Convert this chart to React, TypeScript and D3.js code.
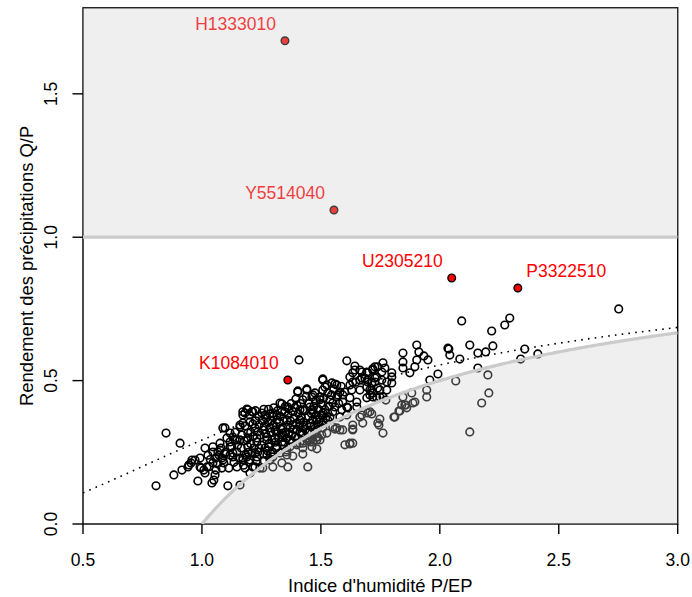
import React from "react";
import * as d3 from "d3";

// ---- data ----
const xTicks = [0.5, 1.0, 1.5, 2.0, 2.5, 3.0];
const yTicks = [0.0, 0.5, 1.0, 1.5];
const xLabel = "Indice d'humidité P/EP";
const yLabel = "Rendement des précipitations Q/P";

// Fu curve parameter (dotted line)
const fuW = 2.7;

// highlighted stations
const highlightCodes = ["H1333010", "Y5514040", "U2305210", "P3322510", "K1084010"];
const highlightPEP = [1.349, 1.555, 2.05, 2.328, 1.361];
const highlightQP = [1.685, 1.095, 0.858, 0.823, 0.502];
const highlightLabelRight = [false, false, false, true, false];

// all other stations: [P/EP, Q/P]
const stations: [number, number][] = [
  [0.807,0.133],[0.849,0.317],[0.882,0.171],[0.908,0.282],[0.916,0.188],[0.941,0.199],[0.945,0.206],[0.954,0.213],[0.958,0.223],[0.971,0.223],[0.983,0.150],[0.992,0.230],[0.992,0.199],[0.996,0.195],
  [1.013,0.265],[1.008,0.188],[1.021,0.199],[1.013,0.178],[1.042,0.143],[1.050,0.153],[1.055,0.171],[1.059,0.188],[1.046,0.269],[1.046,0.251],[1.046,0.213],[1.076,0.282],[1.076,0.258],[1.067,0.251],[1.084,0.230],[1.092,0.213],[1.084,0.195],[1.088,0.223],[1.088,0.335],[1.109,0.133],[1.097,0.335],[1.118,0.317],[1.118,0.269],[1.118,0.286],[1.118,0.241],[1.113,0.195],[1.130,0.248],[1.130,0.234],[1.130,0.303],[1.139,0.293],[1.147,0.293],[1.147,0.251],[1.147,0.199],[1.160,0.136],[1.160,0.293],[1.160,0.338],[1.160,0.345],[1.172,0.223],[1.172,0.230],[1.172,0.380],[1.172,0.391],[1.172,0.352],[1.181,0.195],[1.181,0.387],[1.181,0.342],[1.185,0.241],[1.189,0.234],[1.189,0.293],[1.189,0.401],[1.193,0.317],[1.193,0.269],[1.193,0.300],[1.193,0.398],[1.202,0.178],[1.202,0.223],[1.202,0.356],[1.210,0.248],[1.210,0.391],[1.214,0.391],[1.214,0.349],[1.214,0.199],[1.223,0.335],[1.223,0.248],[1.223,0.199],[1.231,0.234],[1.231,0.286],[1.231,0.300],[1.235,0.251],[1.235,0.321],[1.244,0.195],[1.252,0.387],[1.256,0.328],[1.256,0.195],[1.265,0.265],[1.273,0.241],[1.273,0.293],[1.273,0.303],[1.286,0.335],[1.286,0.384],[1.286,0.223],[1.294,0.293],[1.298,0.251],[1.298,0.234],[1.298,0.199],[1.298,0.387],[1.307,0.300],[1.307,0.328],[1.311,0.265],[1.315,0.321],[1.315,0.380],[1.315,0.269],[1.315,0.363],[1.328,0.248],[1.328,0.422],[1.336,0.213],[1.336,0.303],[1.336,0.286],[1.336,0.391],[1.336,0.419],[1.340,0.276],[1.340,0.317],[1.340,0.310],[1.340,0.335],[1.349,0.391],[1.353,0.251],[1.357,0.258],[1.357,0.300],[1.357,0.363],[1.361,0.408],[1.366,0.401],[1.370,0.269],[1.370,0.293],[1.370,0.335],[1.378,0.310],[1.382,0.237],[1.382,0.345],[1.382,0.391],[1.391,0.303],[1.395,0.436],[1.399,0.282],[1.399,0.276],[1.399,0.328],[1.399,0.415],[1.403,0.464],[1.403,0.460],[1.408,0.572],[1.412,0.363],[1.412,0.321],[1.412,0.352],[1.412,0.398],[1.412,0.282],[1.420,0.310],[1.420,0.317],[1.424,0.282],[1.424,0.338],[1.424,0.433],[1.424,0.398],[1.424,0.265],[1.441,0.345],[1.441,0.471],[1.441,0.467],[1.445,0.317],[1.445,0.300],[1.445,0.293],[1.454,0.286],[1.454,0.352],[1.454,0.321],[1.454,0.408],[1.462,0.443],[1.466,0.363],[1.466,0.391],[1.466,0.398],[1.466,0.450],[1.475,0.457],[1.475,0.321],[1.483,0.293],[1.483,0.363],[1.483,0.328],[1.487,0.345],[1.496,0.443],[1.496,0.433],[1.496,0.370],[1.504,0.310],[1.504,0.380],[1.508,0.502],[1.508,0.506],[1.508,0.467],[1.508,0.415],[1.508,0.387],[1.508,0.356],[1.508,0.335],[1.517,0.478],[1.517,0.398],[1.525,0.317],[1.525,0.485],[1.529,0.387],[1.529,0.457],[1.529,0.363],[1.538,0.433],[1.538,0.373],[1.546,0.492],[1.550,0.422],[1.550,0.391],[1.559,0.408],[1.559,0.488],[1.567,0.485],[1.567,0.443],[1.571,0.450],[1.580,0.460],[1.580,0.373],[1.588,0.398],[1.592,0.425],[1.592,0.450],[1.600,0.460],[1.609,0.569],[1.609,0.408],[1.609,0.380],[1.613,0.405],[1.622,0.485],[1.622,0.440],[1.622,0.513],[1.630,0.467],[1.634,0.527],[1.634,0.495],[1.643,0.551],[1.643,0.537],[1.647,0.495],[1.651,0.425],[1.651,0.408],[1.664,0.537],[1.664,0.502],[1.664,0.467],[1.672,0.509],[1.672,0.530],[1.685,0.509],[1.693,0.530],[1.693,0.478],[1.693,0.440],[1.697,0.527],[1.697,0.495],[1.697,0.502],[1.706,0.450],[1.706,0.467],[1.714,0.492],[1.714,0.467],[1.718,0.541],[1.718,0.537],[1.718,0.443],[1.718,0.457],[1.727,0.548],[1.727,0.495],[1.727,0.509],[1.735,0.513],[1.735,0.440],[1.739,0.548],[1.739,0.474],[1.748,0.467],[1.748,0.443],[1.756,0.530],[1.756,0.502],[1.761,0.562],[1.761,0.443],[1.769,0.544],[1.773,0.432],[1.777,0.495],[1.777,0.467],[1.798,0.527],[1.798,0.492],[1.798,0.513],
  [1.205,0.320],[1.215,0.305],[1.225,0.360],[1.240,0.345],[1.245,0.310],[1.250,0.275],[1.255,0.360],[1.262,0.340],[1.268,0.315],[1.270,0.370],[1.278,0.355],[1.282,0.280],[1.290,0.320],[1.292,0.360],[1.300,0.345],[1.302,0.405],[1.308,0.285],[1.312,0.340],[1.318,0.395],[1.322,0.300],[1.325,0.355],[1.330,0.375],[1.332,0.330],[1.345,0.360],[1.348,0.285],[1.350,0.410],[1.352,0.320],[1.360,0.345],[1.362,0.380],[1.365,0.315],[1.372,0.360],[1.375,0.420],[1.380,0.285],[1.385,0.330],[1.388,0.370],[1.392,0.405],[1.395,0.350],[1.402,0.300],[1.405,0.385],[1.410,0.340],[1.415,0.420],[1.418,0.370],[1.428,0.355],[1.432,0.395],[1.435,0.330],[1.438,0.445],[1.448,0.375],[1.450,0.420],[1.458,0.340],[1.460,0.385],[1.470,0.410],[1.472,0.345],[1.478,0.430],[1.480,0.380],[1.490,0.400],[1.492,0.355],[1.500,0.420],[1.512,0.440],[1.520,0.370],[1.535,0.410],[1.545,0.450],[1.555,0.470],[1.575,0.420],[1.585,0.480],
  [1.100,0.250],[1.105,0.300],[1.125,0.270],[1.135,0.215],[1.140,0.320],[1.150,0.275],[1.155,0.230],[1.165,0.265],[1.168,0.310],[1.175,0.205],[1.178,0.290],[1.195,0.250],[1.198,0.215],[1.205,0.280],[1.218,0.265],[1.228,0.220],[1.240,0.265],[1.258,0.245],[1.262,0.220],[1.275,0.255],[1.280,0.270],[1.290,0.245],[1.058,0.230],[1.065,0.210],[1.072,0.240],[1.080,0.265],[1.095,0.245],[1.035,0.225],[1.030,0.200],[1.025,0.240],
  [1.200,0.380],[1.225,0.395],[1.240,0.375],[1.260,0.400],[1.265,0.380],[1.280,0.400],[1.300,0.375],
  [1.845,0.596],[1.845,0.565],[1.845,0.544],[1.874,0.527],[1.895,0.548],[1.903,0.624],[1.903,0.572],[1.912,0.600],[1.933,0.586],[1.950,0.572],[1.958,0.502],[1.992,0.523],[2.034,0.613],[2.038,0.610],[2.042,0.589],[2.084,0.575],[2.092,0.708],[2.126,0.624],[2.160,0.596],[2.193,0.600],[2.218,0.673],[2.223,0.621],[2.273,0.694],[2.294,0.718],[2.357,0.610],[2.412,0.593],[2.752,0.750],
  [2.340,0.575],[2.160,0.544],[2.202,0.520],[2.067,0.499],[2.206,0.457],[2.176,0.422],[2.126,0.321],[1.945,0.467],[1.945,0.443],[1.895,0.425],[1.887,0.422],[1.857,0.415],[1.853,0.415],[1.832,0.394],[1.828,0.394],[1.807,0.373],[1.811,0.373],[1.882,0.457],[1.845,0.443],[1.840,0.415],[1.861,0.405],[1.761,0.317],[1.744,0.345],[1.748,0.366],[1.739,0.352],[1.714,0.384],[1.697,0.387],[1.672,0.380],[1.664,0.373],[1.706,0.391],[1.676,0.352],[1.634,0.345],[1.634,0.331],[1.634,0.328],[1.592,0.328],[1.580,0.328],[1.559,0.331],[1.550,0.338],[1.567,0.335],[1.622,0.279],[1.622,0.282],[1.601,0.276],[1.634,0.282],[1.483,0.262],[1.462,0.269],[1.466,0.286],[1.487,0.303],[1.462,0.300],[1.445,0.199],[1.424,0.244],[1.357,0.241],[1.454,0.293],[1.496,0.293],[1.483,0.303],[1.361,0.199],
];

const FONT = "'Liberation Sans', Arial, Helvetica, sans-serif";
const FS = 17.5;
const FS_TITLE = 18.4;

export default function App() {
  const W = 692, H = 597;
  const L = 83, R = 677.7, T = 7.8, B = 524;
  const x = d3.scaleLinear().domain([0.5, 3.0]).range([L, R]);
  const y = d3.scaleLinear().domain([0, 1.8]).range([B, T]);

  const fu = (r: number) => {
    const phi = 1 / r;
    const ep = 1 + phi - Math.pow(1 + Math.pow(phi, fuW), 1 / fuW);
    return 1 - ep;
  };
  const xsFu = d3.range(0.5, 3.0001, 0.01);
  const fuPath = d3.line()(xsFu.map((v) => [x(v), y(fu(v))] as [number, number])) || "";
  const xsLim = d3.range(1, 3.0001, 0.01);
  const limPath = d3.line()(xsLim.map((v) => [x(v), y(1 - 1 / v)] as [number, number])) || "";
  const limArea =
    d3
      .area<number>()
      .x((d) => x(d))
      .y0(y(0))
      .y1((d) => y(1 - 1 / d))(xsLim) || "";

  const overlay = "rgba(202,202,202,0.3)";
  const lineGray = "#cbcbcb";

  return (
    <svg
      width={W}
      height={H}
      style={{ position: "absolute", left: 0, top: 0, background: "#fff" }}
      fontFamily={FONT}
    >
      <defs>
        <clipPath id="plotclip">
          <rect x={L} y={T} width={R - L} height={B - T} />
        </clipPath>
      </defs>
      <rect x={0} y={0} width={W} height={H} fill="#fff" />

      {/* box */}
      <rect x={L} y={T} width={R - L} height={B - T} fill="none" stroke="#000" strokeWidth={1.4} />

      {/* Fu curve */}
      <g clipPath="url(#plotclip)">
        <path d={fuPath} fill="none" stroke="#000" strokeWidth={1.6} strokeDasharray="1.6 5.2" />
      </g>

      {/* stations */}
      <g clipPath="url(#plotclip)">
        {stations.map((d, i) => (
          <circle key={i} cx={x(d[0])} cy={y(d[1])} r={3.8} fill="none" stroke="#000" strokeWidth={1.6} />
        ))}
        {highlightCodes.map((c, i) => (
          <circle
            key={c}
            cx={x(highlightPEP[i])}
            cy={y(highlightQP[i])}
            r={3.8}
            fill="#ff0000"
            stroke="#000"
            strokeWidth={1.4}
          />
        ))}
        {highlightCodes.map((c, i) => (
          <text
            key={"t" + c}
            x={x(highlightPEP[i]) + (highlightLabelRight[i] ? 8.5 : -9)}
            y={y(highlightQP[i]) - 10.8}
            textAnchor={highlightLabelRight[i] ? "start" : "end"}
            fontSize={FS}
            fill="#ff0000"
          >
            {c}
          </text>
        ))}
      </g>

      {/* shaded zones */}
      <g clipPath="url(#plotclip)">
        <rect x={L - 5} y={T - 5} width={R - L + 10} height={y(1) - T + 5} fill={overlay} />
        <path d={limArea} fill={overlay} />
        <line x1={L} x2={R} y1={y(1)} y2={y(1)} stroke={lineGray} strokeWidth={3.2} />
        <path d={limPath} fill="none" stroke={lineGray} strokeWidth={3.2} />
      </g>

      {/* x axis */}
      <g>
        {xTicks.map((t) => (
          <g key={t}>
            <line x1={x(t)} x2={x(t)} y1={B} y2={B + 10} stroke="#000" strokeWidth={1.4} />
            <text x={x(t)} y={566} textAnchor="middle" fontSize={FS} fill="#000">
              {t.toFixed(1)}
            </text>
          </g>
        ))}
      </g>
      {/* y axis */}
      <g>
        {yTicks.map((t) => (
          <g key={t}>
            <line x1={L - 10.5} x2={L} y1={y(t)} y2={y(t)} stroke="#000" strokeWidth={1.4} />
            <text
              transform={`translate(57,${y(t)}) rotate(-90)`}
              textAnchor="middle"
              fontSize={FS}
              fill="#000"
            >
              {t.toFixed(1)}
            </text>
          </g>
        ))}
      </g>
      <text x={(L + R) / 2} y={592} textAnchor="middle" fontSize={FS_TITLE} fill="#000">
        {xLabel}
      </text>
      <text
        transform={`translate(32.5,${(T + B) / 2}) rotate(-90)`}
        textAnchor="middle"
        fontSize={FS_TITLE}
        fill="#000"
      >
        {yLabel}
      </text>
    </svg>
  );
}
